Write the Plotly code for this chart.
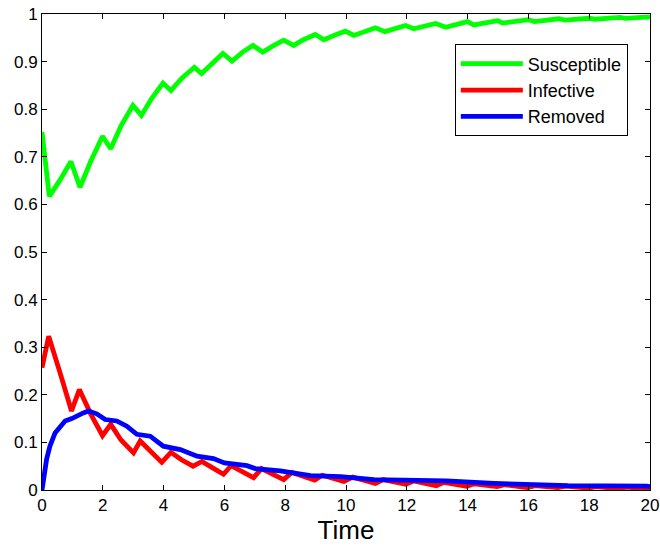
import plotly.graph_objects as go

# Susceptible
t_s = [0, 0.24, 0.6, 0.95, 1.25, 1.6, 1.99, 2.26, 2.6, 2.99, 3.27, 3.6, 3.98, 4.24, 4.6, 5.01,
       5.25, 5.6, 5.95, 6.25, 6.6, 6.94, 7.26, 7.6, 7.95, 8.28, 8.6, 8.99, 9.27, 9.6, 9.98,
       10.26, 10.6, 10.97, 11.28, 11.6, 11.96, 12.23, 12.6, 12.95, 13.28, 13.6, 13.99, 14.21,
       14.98, 15.15, 16.0, 16.2, 17.0, 17.2, 18.0, 18.2, 19.0, 19.2, 20]
susceptible = [0.752, 0.617, 0.652, 0.69, 0.636, 0.69, 0.743, 0.717, 0.765, 0.808, 0.787, 0.822,
               0.855, 0.839, 0.865, 0.888, 0.875, 0.895, 0.917, 0.901, 0.92, 0.934, 0.920, 0.933,
               0.945, 0.934, 0.946, 0.957, 0.946, 0.955, 0.964, 0.955, 0.963, 0.971, 0.963, 0.970,
               0.976, 0.969, 0.975, 0.980, 0.972, 0.978, 0.984, 0.977, 0.986, 0.981, 0.988, 0.984,
               0.990, 0.987, 0.991, 0.989, 0.993, 0.991, 0.994]

# Infective
t_i = [0, 0.22, 0.6, 0.97, 1.23, 1.6, 1.99, 2.26, 2.6, 3.01, 3.23, 3.6, 3.94, 4.24, 4.6, 4.97,
       5.26, 5.6, 5.97, 6.22, 6.6, 6.96, 7.22, 7.6, 7.95, 8.22, 8.6, 8.97, 9.22, 9.6, 9.93,
       10.22, 10.97, 11.22, 11.97, 12.22, 12.97, 13.22, 13.97, 14.22, 14.97, 15.22, 15.97,
       16.22, 16.97, 17.22, 17.97, 18.22, 18.97, 19.22, 20]
infective = [0.257, 0.323, 0.245, 0.166, 0.211, 0.16, 0.114, 0.138, 0.105, 0.078, 0.103, 0.078,
             0.058, 0.079, 0.063, 0.05, 0.06, 0.047, 0.033, 0.051, 0.038, 0.026, 0.045, 0.033,
             0.022, 0.037, 0.028, 0.021, 0.031, 0.024, 0.018, 0.027, 0.014, 0.022, 0.012, 0.019,
             0.009, 0.016, 0.008, 0.013, 0.007, 0.011, 0.005, 0.009, 0.005, 0.008, 0.004, 0.007,
             0.003, 0.006, 0.002]

# Removed
t_r = [0, 0.15, 0.26, 0.43, 0.76, 0.98, 1.36, 1.53, 1.8, 2.08, 2.46, 2.79, 3.12, 3.56, 3.99,
       4.55, 5.1, 5.64, 6.0, 6.74, 7.02, 7.84, 8.83, 9.82, 10.92, 12.02, 13.3, 14.87, 16.2,
       17.3, 19.9, 20]
removed = [0, 0.064, 0.092, 0.12, 0.145, 0.15, 0.162, 0.166, 0.16, 0.148, 0.145, 0.134, 0.117,
           0.113, 0.092, 0.085, 0.071, 0.066, 0.057, 0.051, 0.045, 0.04, 0.03, 0.028, 0.022,
           0.021, 0.019, 0.014, 0.012, 0.009, 0.008, 0.007]

x_ticks = list(range(0, 21, 2))
y_ticks = [round(0.1 * k, 1) for k in range(11)]
y_tick_text = ["0", "0.1", "0.2", "0.3", "0.4", "0.5", "0.6", "0.7", "0.8", "0.9", "1"]

FONT = "Liberation Sans, Arial, Helvetica, sans-serif"
LW = 4.8

fig = go.Figure()
fig.add_trace(go.Scatter(x=t_s, y=susceptible, mode="lines", name="Susceptible",
                         line=dict(color="#00ff00", width=LW), legendgroup="s"))
fig.add_trace(go.Scatter(x=t_i, y=infective, mode="lines", name="Infective",
                         line=dict(color="#ff0000", width=LW), legendgroup="i"))
fig.add_trace(go.Scatter(x=t_r, y=removed, mode="lines", name="Removed",
                         line=dict(color="#0000ff", width=LW), legendgroup="r"))

axis_common = dict(showline=True, linecolor="black", linewidth=1, mirror="ticks",
                   ticks="inside", ticklen=5, tickcolor="black", showgrid=False,
                   zeroline=False, automargin=False,
                   tickfont=dict(family=FONT, size=17, color="black"))

fig.update_xaxes(range=[0, 20], tickmode="array", tickvals=x_ticks,
                 title=dict(text="Time", font=dict(family=FONT, size=26, color="black"), standoff=4),
                 **axis_common)
fig.update_yaxes(range=[0, 1], tickmode="array", tickvals=y_ticks, ticktext=y_tick_text,
                 **axis_common)

fig.update_layout(
    width=660, height=548,
    margin=dict(l=42, r=10, t=14, b=57.5, pad=0),
    paper_bgcolor="white", plot_bgcolor="white",
    font=dict(family=FONT, color="black"),
    legend=dict(x=0.679, y=0.936, xanchor="left", yanchor="top",
                bgcolor="white", bordercolor="black", borderwidth=1,
                font=dict(family=FONT, size=18, color="black"),
                itemwidth=62, tracegroupgap=0, traceorder="grouped"),
)

fig.write_html("out.html")
